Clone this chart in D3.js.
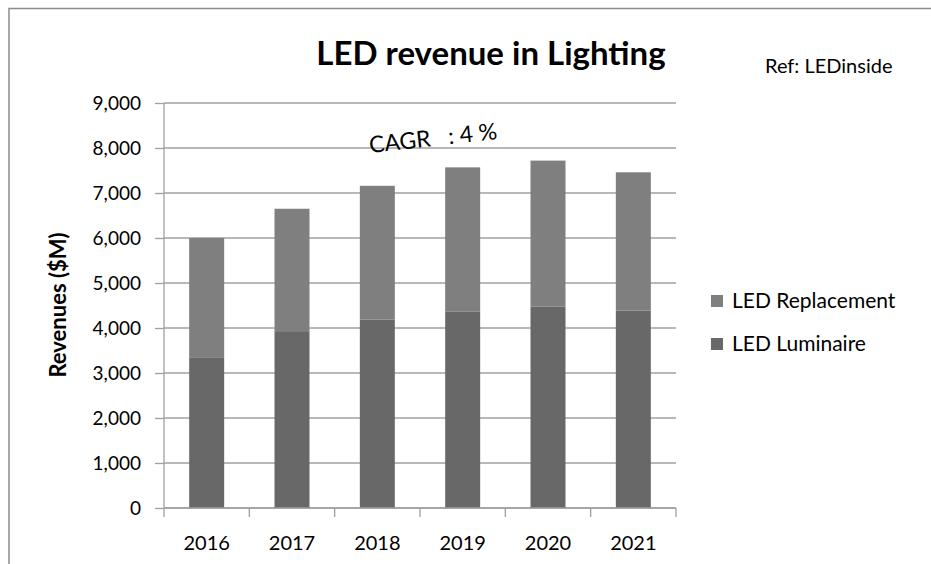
<!DOCTYPE html>
<html>
<head>
<meta charset="utf-8">
<script src="https://cdn.jsdelivr.net/npm/d3@7"></script>
<style>
  body { margin: 0; background: #fff; }
  svg text { font-family: Lato, "Open Sans", sans-serif; fill: #000; }
</style>
</head>
<body>
<svg id="chart" width="931" height="564"></svg>
<script>
var years = ['2016', '2017', '2018', '2019', '2020', '2021'];
var seriesNames = ['LED Luminaire', 'LED Replacement'];
var luminaire = [3350, 3930, 4190, 4370, 4480, 4390];
var totals = [6000, 6650, 7160, 7570, 7720, 7460];
var replacement = totals.map(function(t, i) { return t - luminaire[i]; });
var yTicks = [0, 1000, 2000, 3000, 4000, 5000, 6000, 7000, 8000, 9000];
var colors = { 'LED Luminaire': '#686868', 'LED Replacement': '#7f7f7f' };

var svg = d3.select('#chart');

// frame of the original chart object
svg.append('path')
  .attr('d', 'M9,564 V8.5 H931')
  .attr('fill', 'none')
  .attr('stroke', '#8c8c8c')
  .attr('stroke-width', 1.5);

var plotLeft = 164, plotRight = 676, plotTop = 103, plotBottom = 508;

var x = d3.scaleBand()
  .domain(years)
  .range([plotLeft, plotRight])
  .paddingInner(0.59)
  .paddingOuter(0.295);

var y = d3.scaleLinear()
  .domain([0, 9000])
  .range([plotBottom, plotTop]);

// gridlines
svg.append('g')
  .selectAll('line')
  .data(yTicks)
  .enter().append('line')
  .attr('x1', plotLeft)
  .attr('x2', plotRight)
  .attr('y1', function(d) { return y(d); })
  .attr('y2', function(d) { return y(d); })
  .attr('stroke', '#a0a0a0')
  .attr('stroke-width', 1.3);

var stackData = years.map(function(yr, i) {
  return { year: yr, 'LED Luminaire': luminaire[i], 'LED Replacement': replacement[i] };
});
var stack = d3.stack().keys(seriesNames)(stackData);

svg.append('g')
  .selectAll('g')
  .data(stack)
  .enter().append('g')
  .attr('fill', function(d) { return colors[d.key]; })
  .selectAll('rect')
  .data(function(d) { return d; })
  .enter().append('rect')
  .attr('x', function(d) { return x(d.data.year); })
  .attr('width', x.bandwidth())
  .attr('y', function(d) { return y(d[1]); })
  .attr('height', function(d) { return y(d[0]) - y(d[1]); });

// y axis
var yAxis = d3.axisLeft(y)
  .tickValues(yTicks)
  .tickSize(9)
  .tickPadding(14)
  .tickFormat(d3.format(','));
var yg = svg.append('g')
  .attr('transform', 'translate(' + plotLeft + ',0)')
  .call(yAxis);
yg.select('.domain').remove();
yg.append('line')
  .attr('x1', 0).attr('x2', 0)
  .attr('y1', plotTop).attr('y2', plotBottom)
  .attr('stroke', '#a0a0a0').attr('stroke-width', 1.3);
yg.selectAll('.tick line').attr('stroke', '#a0a0a0').attr('stroke-width', 1.3);
yg.selectAll('.tick text')
  .attr('font-size', 19)
  .attr('fill', '#000');

// x axis, ticks between categories
var xg = svg.append('g');
xg.append('line')
  .attr('x1', plotLeft).attr('x2', plotRight)
  .attr('y1', plotBottom).attr('y2', plotBottom)
  .attr('stroke', '#a0a0a0').attr('stroke-width', 1.3);
var bounds = years.map(function(d) { return x(d) - x.step() * x.paddingInner() / 2; });
bounds.push(plotRight);
xg.selectAll('.xt')
  .data(bounds)
  .enter().append('line')
  .attr('x1', function(d) { return d; })
  .attr('x2', function(d) { return d; })
  .attr('y1', plotBottom)
  .attr('y2', plotBottom + 9)
  .attr('stroke', '#a0a0a0').attr('stroke-width', 1.3);
xg.selectAll('.xl')
  .data(years)
  .enter().append('text')
  .attr('x', function(d) { return x(d) + x.bandwidth() / 2; })
  .attr('y', 550)
  .attr('text-anchor', 'middle')
  .attr('font-size', 20)
  .text(function(d) { return d; });

// y axis title
svg.append('text')
  .attr('transform', 'translate(66,305) rotate(-90)')
  .attr('text-anchor', 'middle')
  .attr('font-size', 22)
  .attr('font-weight', 'bold')
  .text('Revenues ($M)');

// title
svg.append('text')
  .attr('x', 491)
  .attr('y', 65)
  .attr('text-anchor', 'middle')
  .attr('font-size', 33)
  .attr('font-weight', 'bold')
  .text('LED revenue in Lighting');

svg.append('text')
  .attr('x', 765)
  .attr('y', 73)
  .attr('font-size', 20)
  .text('Ref: LEDinside');

svg.append('text')
  .attr('transform', 'translate(370,153) rotate(-6.3)')
  .attr('font-size', 23)
  .attr('xml:space', 'preserve')
  .text('CAGR   : 4 %');

// legend, replacement on top
var legend = svg.append('g')
  .selectAll('g')
  .data(seriesNames.slice().reverse())
  .enter().append('g')
  .attr('transform', function(d, i) { return 'translate(711,' + (295 + i * 43) + ')'; });
legend.append('rect')
  .attr('width', 12)
  .attr('height', 12)
  .attr('fill', function(d) { return colors[d]; });
legend.append('text')
  .attr('x', 21)
  .attr('y', 13)
  .attr('font-size', 21)
  .text(function(d) { return d; });
</script>
</body>
</html>
